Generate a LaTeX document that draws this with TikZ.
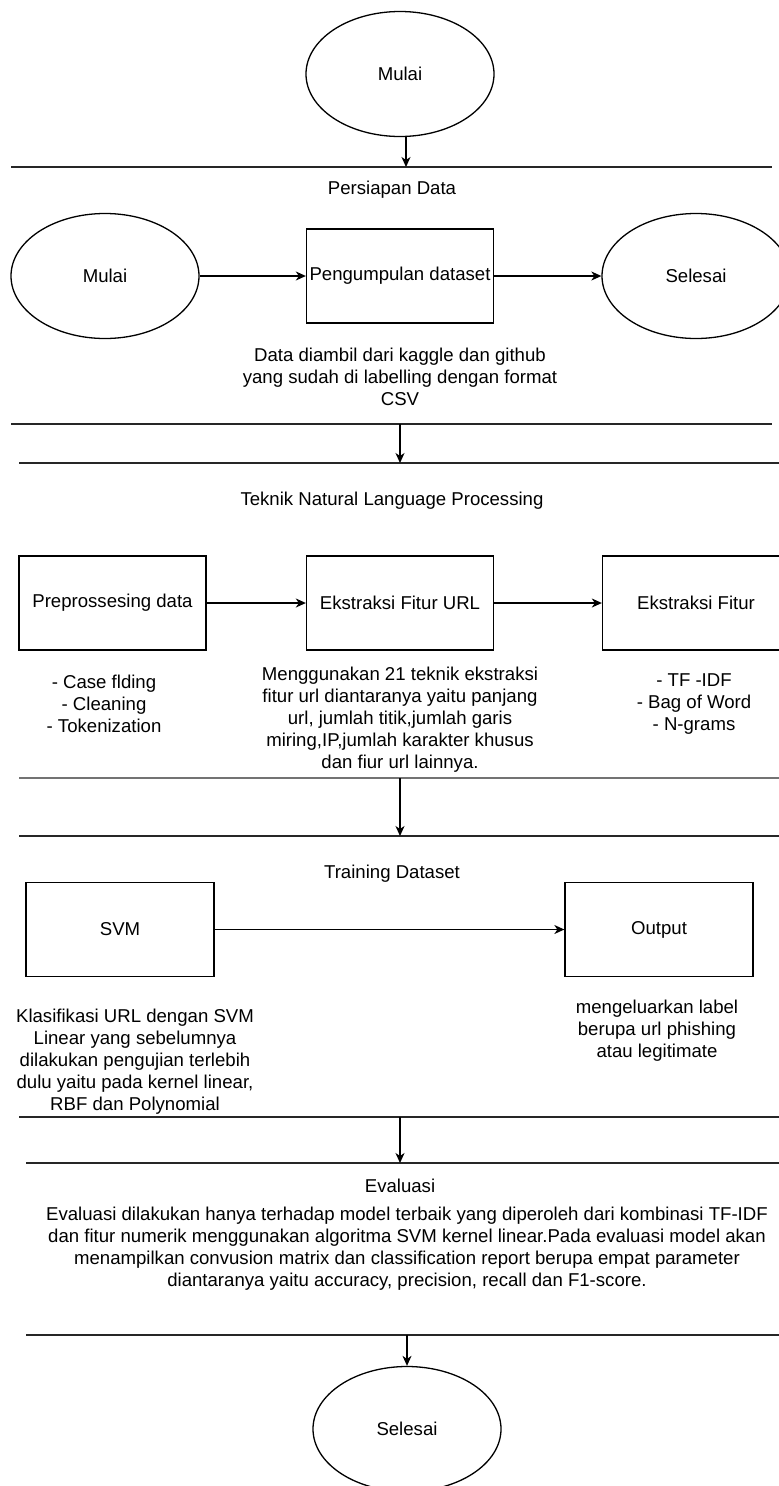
\documentclass[tikz,border=0pt]{standalone}
\usepackage{fontspec}
\setmainfont{Liberation Sans}
\usepackage{tikz}
\usetikzlibrary{arrows.meta,shapes.geometric}

\begin{document}
\begin{tikzpicture}[x=1pt,y=-1pt,
  font=\fontsize{18.6}{22}\selectfont,
  garis/.style={line width=1.3pt,draw=black!85},
  panah/.style={line width=1.3pt,-{Stealth[length=10pt,width=9pt,inset=3pt]}},
  bulat/.style={draw,line width=1.3pt,ellipse,minimum width=188pt,minimum height=125pt,inner sep=0pt},
  kotak/.style={draw,line width=1.3pt,rectangle,minimum width=187pt,minimum height=94pt,inner sep=0pt},
  ket/.style={align=center,inner sep=0pt}]
\useasboundingbox (0,0) rectangle (779,1486);
% garis pemisah antar tahap
\foreach \y / \xa / \xb in {167/11/772, 424/11/772, 463/19/779, 836/19/779, 1117/19/779, 1163/26/779, 1335/26/779}
  \draw[garis] (\xa,\y) -- (\xb,\y);
\draw[line width=2pt,draw=black!55] (19,778) -- (779,778);
\coordinate (g1) at (406,167);
\coordinate (g2) at (400,424);
\coordinate (g3) at (400,463);
\coordinate (g4) at (400,778);
\coordinate (g5) at (400,836);
\coordinate (g6) at (400,1117);
\coordinate (g7) at (400,1163);
\coordinate (g8) at (407,1335);

\node[bulat] (mulai) at (400,74) {Mulai};
\node[ket] (persiapan) at (392,190) {Persiapan Data};
\node[bulat] (mulaiData) at (105,276) {Mulai};
\node[kotak] (kumpul) at (400,276) {Pengumpulan dataset};
\node[bulat] (selesaiData) at (696,276) {Selesai};
\node[ket] (ketKumpul) at (400,377) {Data diambil dari kaggle dan github\\yang sudah di labelling dengan format\\CSV};

\node[ket] (teknik) at (392,501) {Teknik Natural Language Processing};
\node[kotak] (prepro) at (112.5,603) {Preprossesing data};
\node[kotak] (fiturUrl) at (400,603) {Ekstraksi Fitur URL};
\node[kotak] (fitur) at (696,603) {Ekstraksi Fitur};
\node[ket] (ketPrepro) at (104,704) {- Case flding\\- Cleaning\\- Tokenization};
\node[ket] (ketUrl) at (400,720) {Menggunakan 21 teknik ekstraksi\\fitur url diantaranya yaitu panjang\\url, jumlah titik,jumlah garis\\miring,IP,jumlah karakter khusus\\dan fiur url lainnya.};
\node[ket] (ketFitur) at (694,704) {- TF -IDF\\- Bag of Word\\- N-grams};

\node[ket] (training) at (392,874) {Training Dataset};
\node[kotak,minimum width=188pt] (svm) at (120,929.5) {SVM};
\node[kotak,minimum width=188pt] (output) at (659,929.5) {Output};
\node[ket] (ketSvm) at (135,1062) {Klasifikasi URL dengan SVM\\Linear yang sebelumnya\\dilakukan pengujian terlebih\\dulu yaitu pada kernel linear,\\RBF dan Polynomial};
\node[ket] (ketOutput) at (657,1031) {mengeluarkan label\\berupa url phishing\\atau legitimate};

\node[ket] (evaluasi) at (400,1186) {Evaluasi};
\node[ket] (ketEvaluasi) at (407,1248.5) {Evaluasi dilakukan hanya terhadap model terbaik yang diperoleh dari kombinasi TF-IDF\\dan fitur numerik menggunakan algoritma SVM kernel linear.Pada evaluasi model akan\\menampilkan convusion matrix dan classification report berupa empat parameter\\diantaranya yaitu accuracy, precision, recall dan F1-score.};
\node[bulat] (selesai) at (407,1429) {Selesai};

% alur
\draw[panah] (mulai.south -| g1) -- (g1);
\draw[panah] (mulaiData) -- (kumpul);
\draw[panah] (kumpul) -- (selesaiData);
\draw[panah] (g2) -- (g3);
\draw[panah] (prepro) -- (fiturUrl);
\draw[panah] (fiturUrl) -- (fitur);
\draw[panah] (g4) -- (g5);
\draw[panah] (svm) -- (output);
\draw[panah] (g6) -- (g7);
\draw[panah] (g8) -- (selesai);
\end{tikzpicture}
\end{document}
